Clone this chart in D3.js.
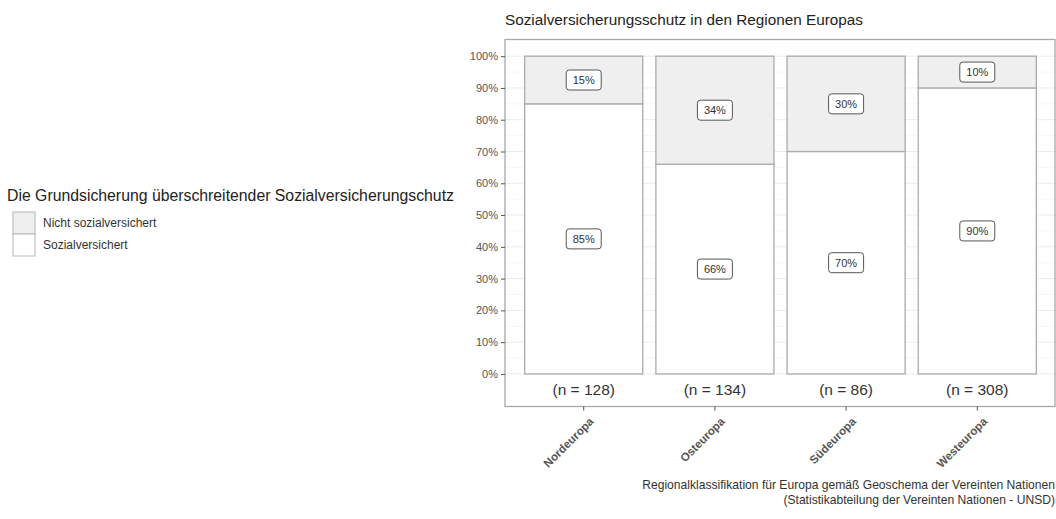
<!DOCTYPE html>
<html>
<head>
<meta charset="utf-8">
<script src="https://cdn.jsdelivr.net/npm/d3@7"></script>
<style>
  body { margin: 0; background: #fff; }
  text { font-family: "Liberation Sans", Arial, sans-serif; }
</style>
</head>
<body>
<div id="container"></div>
<script>
// data
const regions = ["Nordeuropa", "Osteuropa", "Südeuropa", "Westeuropa"];
const counts = [128, 134, 86, 308];
const versichert = [85, 66, 70, 90];      // Sozialversichert (%)
const nichtVersichert = [15, 34, 30, 10]; // Nicht sozialversichert (%)
const yTicks = [0, 10, 20, 30, 40, 50, 60, 70, 80, 90, 100];
const legendLabels = ["Nicht sozialversichert", "Sozialversichert"];
const fills = ["#efefef", "#ffffff"];

const width = 1056, height = 519;
const panel = { left: 505, right: 1056, top: 39.5, bottom: 406.5 };

const svg = d3.select("#container")
    .append("svg")
    .attr("width", width)
    .attr("height", height);

const x = d3.scaleBand()
    .domain(regions)
    .range([panel.left, panel.right])
    .paddingInner(0.1)
    .paddingOuter(0.15);

const y = d3.scaleLinear()
    .domain([-10.25, 105.25])
    .range([panel.bottom, panel.top]);

// grid lines
const minor = d3.range(5, 100, 10);
svg.append("g")
    .selectAll("line")
    .data(minor)
    .join("line")
    .attr("x1", panel.left).attr("x2", panel.right)
    .attr("y1", d => y(d)).attr("y2", d => y(d))
    .attr("stroke", "#f4f4f4")
    .attr("stroke-width", 0.8);

svg.append("g")
    .selectAll("line")
    .data(yTicks)
    .join("line")
    .attr("x1", panel.left).attr("x2", panel.right)
    .attr("y1", d => y(d)).attr("y2", d => y(d))
    .attr("stroke", "#ebebeb")
    .attr("stroke-width", 1);

// stacked bars
const stacks = regions.map((r, i) => [
    { region: r, y0: 0, y1: versichert[i], fill: fills[1], label: versichert[i] + "%" },
    { region: r, y0: versichert[i], y1: versichert[i] + nichtVersichert[i], fill: fills[0], label: nichtVersichert[i] + "%" }
]).flat();

svg.append("g")
    .selectAll("rect")
    .data(stacks)
    .join("rect")
    .attr("x", d => x(d.region))
    .attr("width", x.bandwidth())
    .attr("y", d => y(d.y1))
    .attr("height", d => y(d.y0) - y(d.y1))
    .attr("fill", d => d.fill)
    .attr("stroke", "#ababab")
    .attr("stroke-width", 1.3);

// percentage labels
const labels = svg.append("g")
    .selectAll("g")
    .data(stacks)
    .join("g")
    .attr("transform", d => `translate(${x(d.region) + x.bandwidth() / 2},${y((d.y0 + d.y1) / 2)})`);

labels.append("rect")
    .attr("x", -17.5).attr("y", -10)
    .attr("width", 35).attr("height", 20)
    .attr("rx", 3).attr("ry", 3)
    .attr("fill", "#fff")
    .attr("stroke", "#555")
    .attr("stroke-width", 1);

labels.append("text")
    .attr("text-anchor", "middle")
    .attr("dy", "0.36em")
    .style("font-size", "11px")
    .attr("fill", "#333")
    .text(d => d.label);

// n labels
svg.append("g")
    .selectAll("text")
    .data(regions)
    .join("text")
    .attr("x", d => x(d) + x.bandwidth() / 2)
    .attr("y", y(-5))
    .attr("dy", "0.36em")
    .attr("text-anchor", "middle")
    .style("font-size", "15.5px")
    .attr("fill", "#333")
    .text((d, i) => `(n = ${counts[i]})`);

// panel border
svg.append("rect")
    .attr("x", panel.left).attr("y", panel.top)
    .attr("width", panel.right - panel.left - 1)
    .attr("height", panel.bottom - panel.top)
    .attr("fill", "none")
    .attr("stroke", "#a8a8a8")
    .attr("stroke-width", 1.3);

// y axis
const yAxis = svg.append("g")
    .attr("transform", `translate(${panel.left},0)`)
    .call(d3.axisLeft(y).tickValues(yTicks).tickSize(4).tickPadding(3).tickFormat(d => d + "%"));
yAxis.select(".domain").remove();
yAxis.selectAll("line").attr("stroke", "#555");
yAxis.selectAll("text")
    .style("font-size", "11px")
    .style("font-family", "Liberation Sans, Arial, sans-serif")
    .attr("fill", "#555");

// x axis
const xAxis = svg.append("g")
    .attr("transform", `translate(0,${panel.bottom})`)
    .call(d3.axisBottom(x).tickSize(4).tickSizeOuter(0));
xAxis.select(".domain").remove();
xAxis.selectAll("line").attr("stroke", "#555");
xAxis.selectAll("text")
    .attr("y", 0).attr("dy", 0)
    .attr("transform", "translate(5,10) rotate(-45)")
    .attr("text-anchor", "end")
    .attr("dominant-baseline", "hanging")
    .style("font-size", "11.5px")
    .style("font-weight", "bold")
    .style("font-family", "Liberation Sans, Arial, sans-serif")
    .attr("fill", "#555");

// title
svg.append("text")
    .attr("x", panel.left)
    .attr("y", 25)
    .style("font-size", "15.3px")
    .attr("fill", "#222")
    .text("Sozialversicherungsschutz in den Regionen Europas");

// legend
const legend = svg.append("g").attr("transform", "translate(7,0)");
legend.append("text")
    .attr("x", 0).attr("y", 201)
    .style("font-size", "15.8px")
    .attr("fill", "#222")
    .text("Die Grundsicherung überschreitender Sozialversicherungschutz");

const keys = legend.selectAll("g.key")
    .data(legendLabels)
    .join("g")
    .attr("class", "key")
    .attr("transform", (d, i) => `translate(6,${212 + i * 22})`);

keys.append("rect")
    .attr("width", 22).attr("height", 22)
    .attr("fill", (d, i) => fills[i])
    .attr("stroke", "#b5b5b5")
    .attr("stroke-width", 1);

keys.append("text")
    .attr("x", 30).attr("y", 11)
    .attr("dy", "0.36em")
    .style("font-size", "12px")
    .attr("fill", "#333")
    .text(d => d);

// caption
const caption = ["Regionalklassifikation für Europa gemäß Geoschema der Vereinten Nationen",
                 "(Statistikabteilung der Vereinten Nationen - UNSD)"];
svg.append("g")
    .selectAll("text")
    .data(caption)
    .join("text")
    .attr("x", 1055)
    .attr("y", (d, i) => 489 + i * 15)
    .attr("text-anchor", "end")
    .style("font-size", "12.1px")
    .attr("fill", "#333")
    .text(d => d);
</script>
</body>
</html>
